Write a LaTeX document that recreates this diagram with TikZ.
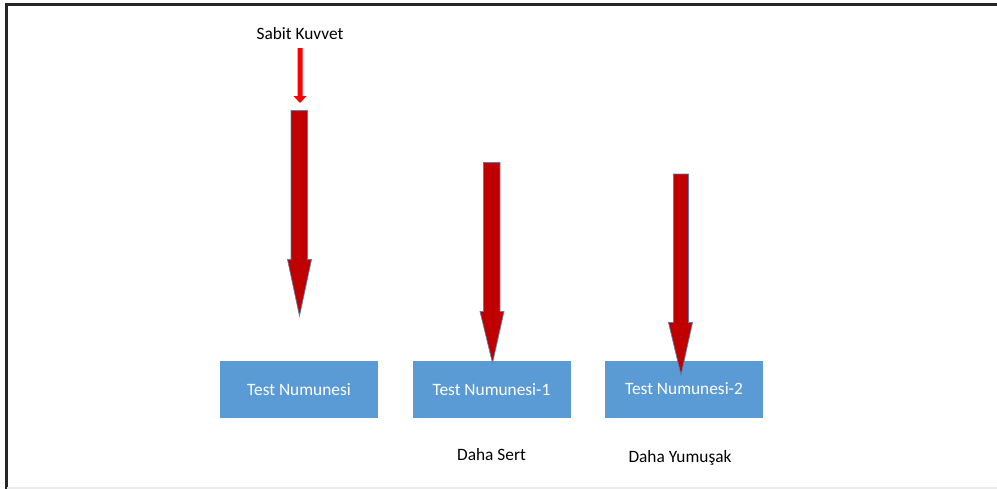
\documentclass[tikz,border=0pt]{standalone}
\usepackage{fontspec}
\setmainfont{Carlito}
\definecolor{boxblue}{HTML}{5B9BD5}
\definecolor{darkred}{HTML}{C00000}
\definecolor{arrowedge}{HTML}{5B7FA8}
\begin{document}
\begin{tikzpicture}[x=0.75pt,y=-0.75pt,
  sample/.style={draw=none,fill=boxblue,minimum width=158*0.75pt,minimum height=57*0.75pt,inner sep=0pt,text=white,font=\fontsize{13pt}{15pt}\selectfont},
  caption/.style={inner sep=0pt,font=\fontsize{13pt}{15pt}\selectfont},
  blockarrow/.style={fill=darkred,draw=arrowedge,line width=0.5pt,line join=miter}]
\useasboundingbox (0,0) rectangle (997,489);
% frame
\draw[line width=1.6pt,black!85] (6.5,489) -- (6.5,4.5) -- (997,4.5);
\draw[line width=0.8pt,black!8] (7,488) -- (997,488);
% samples
\node[sample] (s1) at (299,389.5) {Test Numunesi};
\node[sample] (s2) at (491.5,389.5) {Test Numunesi-1};
\node[sample] (s3) at (684,389) {Test Numunesi-2};
% captions
\node[caption] (force) at (300,34) {Sabit Kuvvet};
\node[caption] (hard) at (491.5,455) {Daha Sert};
\node[caption] (soft) at (680,457.5) {Daha Yumuşak};
% small red arrow
\fill[red] (297.5,48) -- (302.5,48) -- (302.5,96) -- (306.5,96) -- (300,103) -- (293.5,96) -- (297.5,96) -- cycle;
% block arrow 1
\draw[blockarrow] (291,110.5) -- (307.5,110.5) -- (307.5,259.5) -- (311.5,259.5) -- (299.5,316) -- (287.5,259.5) -- (291,259.5) -- cycle;
% block arrow 2
\draw[blockarrow] (483.5,162.5) -- (500,162.5) -- (500,311.5) -- (504,311.5) -- (492.5,363) -- (480,311.5) -- (483.5,311.5) -- cycle;
% block arrow 3
\draw[blockarrow] (673.5,174) -- (688.5,174) -- (688.5,322.5) -- (692.5,322.5) -- (681,375) -- (668.5,322.5) -- (673.5,322.5) -- cycle;
\end{tikzpicture}
\end{document}
